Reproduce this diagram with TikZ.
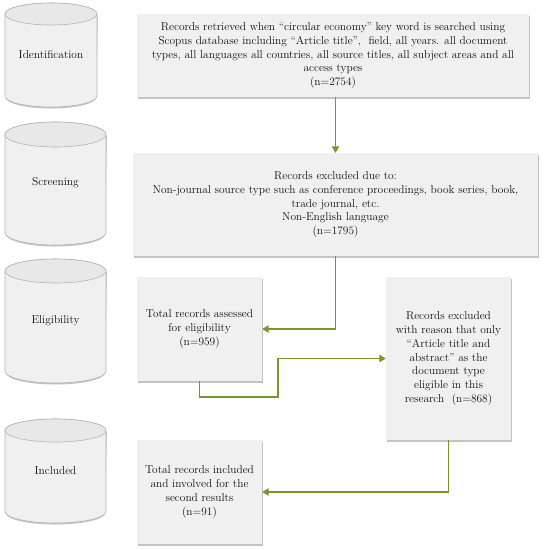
\documentclass[tikz,border=0pt]{standalone}
\usepackage{fontspec}
\usetikzlibrary{arrows.meta,shadows}
\definecolor{arrowgreen}{RGB}{122,150,40}
\definecolor{boxfill}{RGB}{240,240,240}
\definecolor{cylfill}{RGB}{240,240,240}
\definecolor{cyltop}{RGB}{232,232,232}
\definecolor{cylline}{RGB}{180,180,180}
\definecolor{shadowgray}{RGB}{195,195,195}
\definecolor{txt}{RGB}{15,15,15}
\tikzset{
  flowbox/.style={rectangle, fill=boxfill, draw=none, align=center, text=txt,
    font=\fontsize{11.4}{13.7}\selectfont\addfontfeatures{FakeBold=0.35}, inner sep=2pt,
    drop shadow={shadow xshift=1pt, shadow yshift=-1.6pt, fill=shadowgray, opacity=1}},
  cyllabel/.style={text=txt, font=\fontsize{11.4}{13}\selectfont\addfontfeatures{FakeBold=0.35}},
  conn/.style={draw=arrowgreen, line width=1.25pt, -{Triangle[length=6.5pt,width=7.5pt]}},
  cylbody/.style={fill=cylfill, draw=cylline, line width=0.6pt},
  cylcap/.style={fill=cyltop, draw=cylline, line width=0.6pt},
}
% #1 x0, #2 x1, #3 ytop, #4 ybot, #5 ry
\newcommand\mycylinder[5]{%
  \pgfmathsetmacro\cx{(#1+#2)/2}%
  \pgfmathsetmacro\rx{(#2-#1)/2}%
  \pgfmathsetmacro\ya{#3+#5}%
  \pgfmathsetmacro\yb{#4-#5}%
  \fill[shadowgray] (#1+0.8,\ya+1.5) -- (#1+0.8,\yb+1.5) arc (180:0:\rx-0.8 and #5) -- (#2+0.8,\ya+1.5) -- cycle;
  \path[cylbody] (#1,\ya) -- (#1,\yb) arc (180:0:\rx\space and #5) -- (#2,\ya) arc (0:-180:\rx\space and #5) -- cycle;
  \path[cylcap] (\cx,\ya) ellipse ({\rx} and {#5});
}
\begin{document}
\begin{tikzpicture}[x=1pt,y=-1pt]
\useasboundingbox[fill=white] (0,0) rectangle (546,550);

% cylinders
\mycylinder{5}{97}{3}{107}{11}
\mycylinder{5}{106}{122}{245}{12.5}
\mycylinder{5}{106}{259}{383}{12}
\mycylinder{5}{106}{419}{523}{11.5}
\node[cyllabel] (lid) at (51,55) {Identification};
\node[cyllabel] (lsc) at (55.5,183) {Screening};
\node[cyllabel] (lel) at (55.5,321) {Eligibility};
\node[cyllabel] (lin) at (55.5,471) {Included};

% boxes
\node[flowbox, minimum width=392pt, minimum height=83pt] (b1) at (333,55.5)
 {Records retrieved when ``circular economy'' key word is searched using\\
  Scopus database including ``Article title'',\ \ field, all years. all document\\
  types, all languages all countries, all source titles, all subject areas and all\\
  access types\\ (n=2754)};
\node[flowbox, minimum width=405pt, minimum height=103pt] (b2) at (335.5,204.5)
 {Records excluded due to:\\
  Non-journal source type such as conference proceedings, book series, book,\\
  trade journal, etc.\\
  Non-English language\\
  (n=1795)};
\node[flowbox, minimum width=125pt, minimum height=104pt] (b3) at (199.5,329)
 {Total records assessed\\ for eligibility\\ (n=959)};
\node[flowbox, minimum width=125pt, minimum height=163pt] (b4) at (448.5,358.5)
 {Records excluded\\ with reason that only\\ ``Article title and\\ abstract'' as the\\ document type\\ eligible in this\\ research\ \ (n=868)};
\node[flowbox, minimum width=125pt, minimum height=104pt] (b5) at (199.5,492)
 {Total records included\\ and involved for the\\ second results\\ (n=91)};

% connectors
\coordinate (c1) at (278,397);
\draw[conn] (b2.north |- b1.south) -- (b2.north);
\draw[conn] (b2.south) |- (b3.east);
\draw[conn] (b3.south) |- (c1) |- (b4.west);
\draw[conn] (b4.south) |- (b5.east);
\end{tikzpicture}
\end{document}
